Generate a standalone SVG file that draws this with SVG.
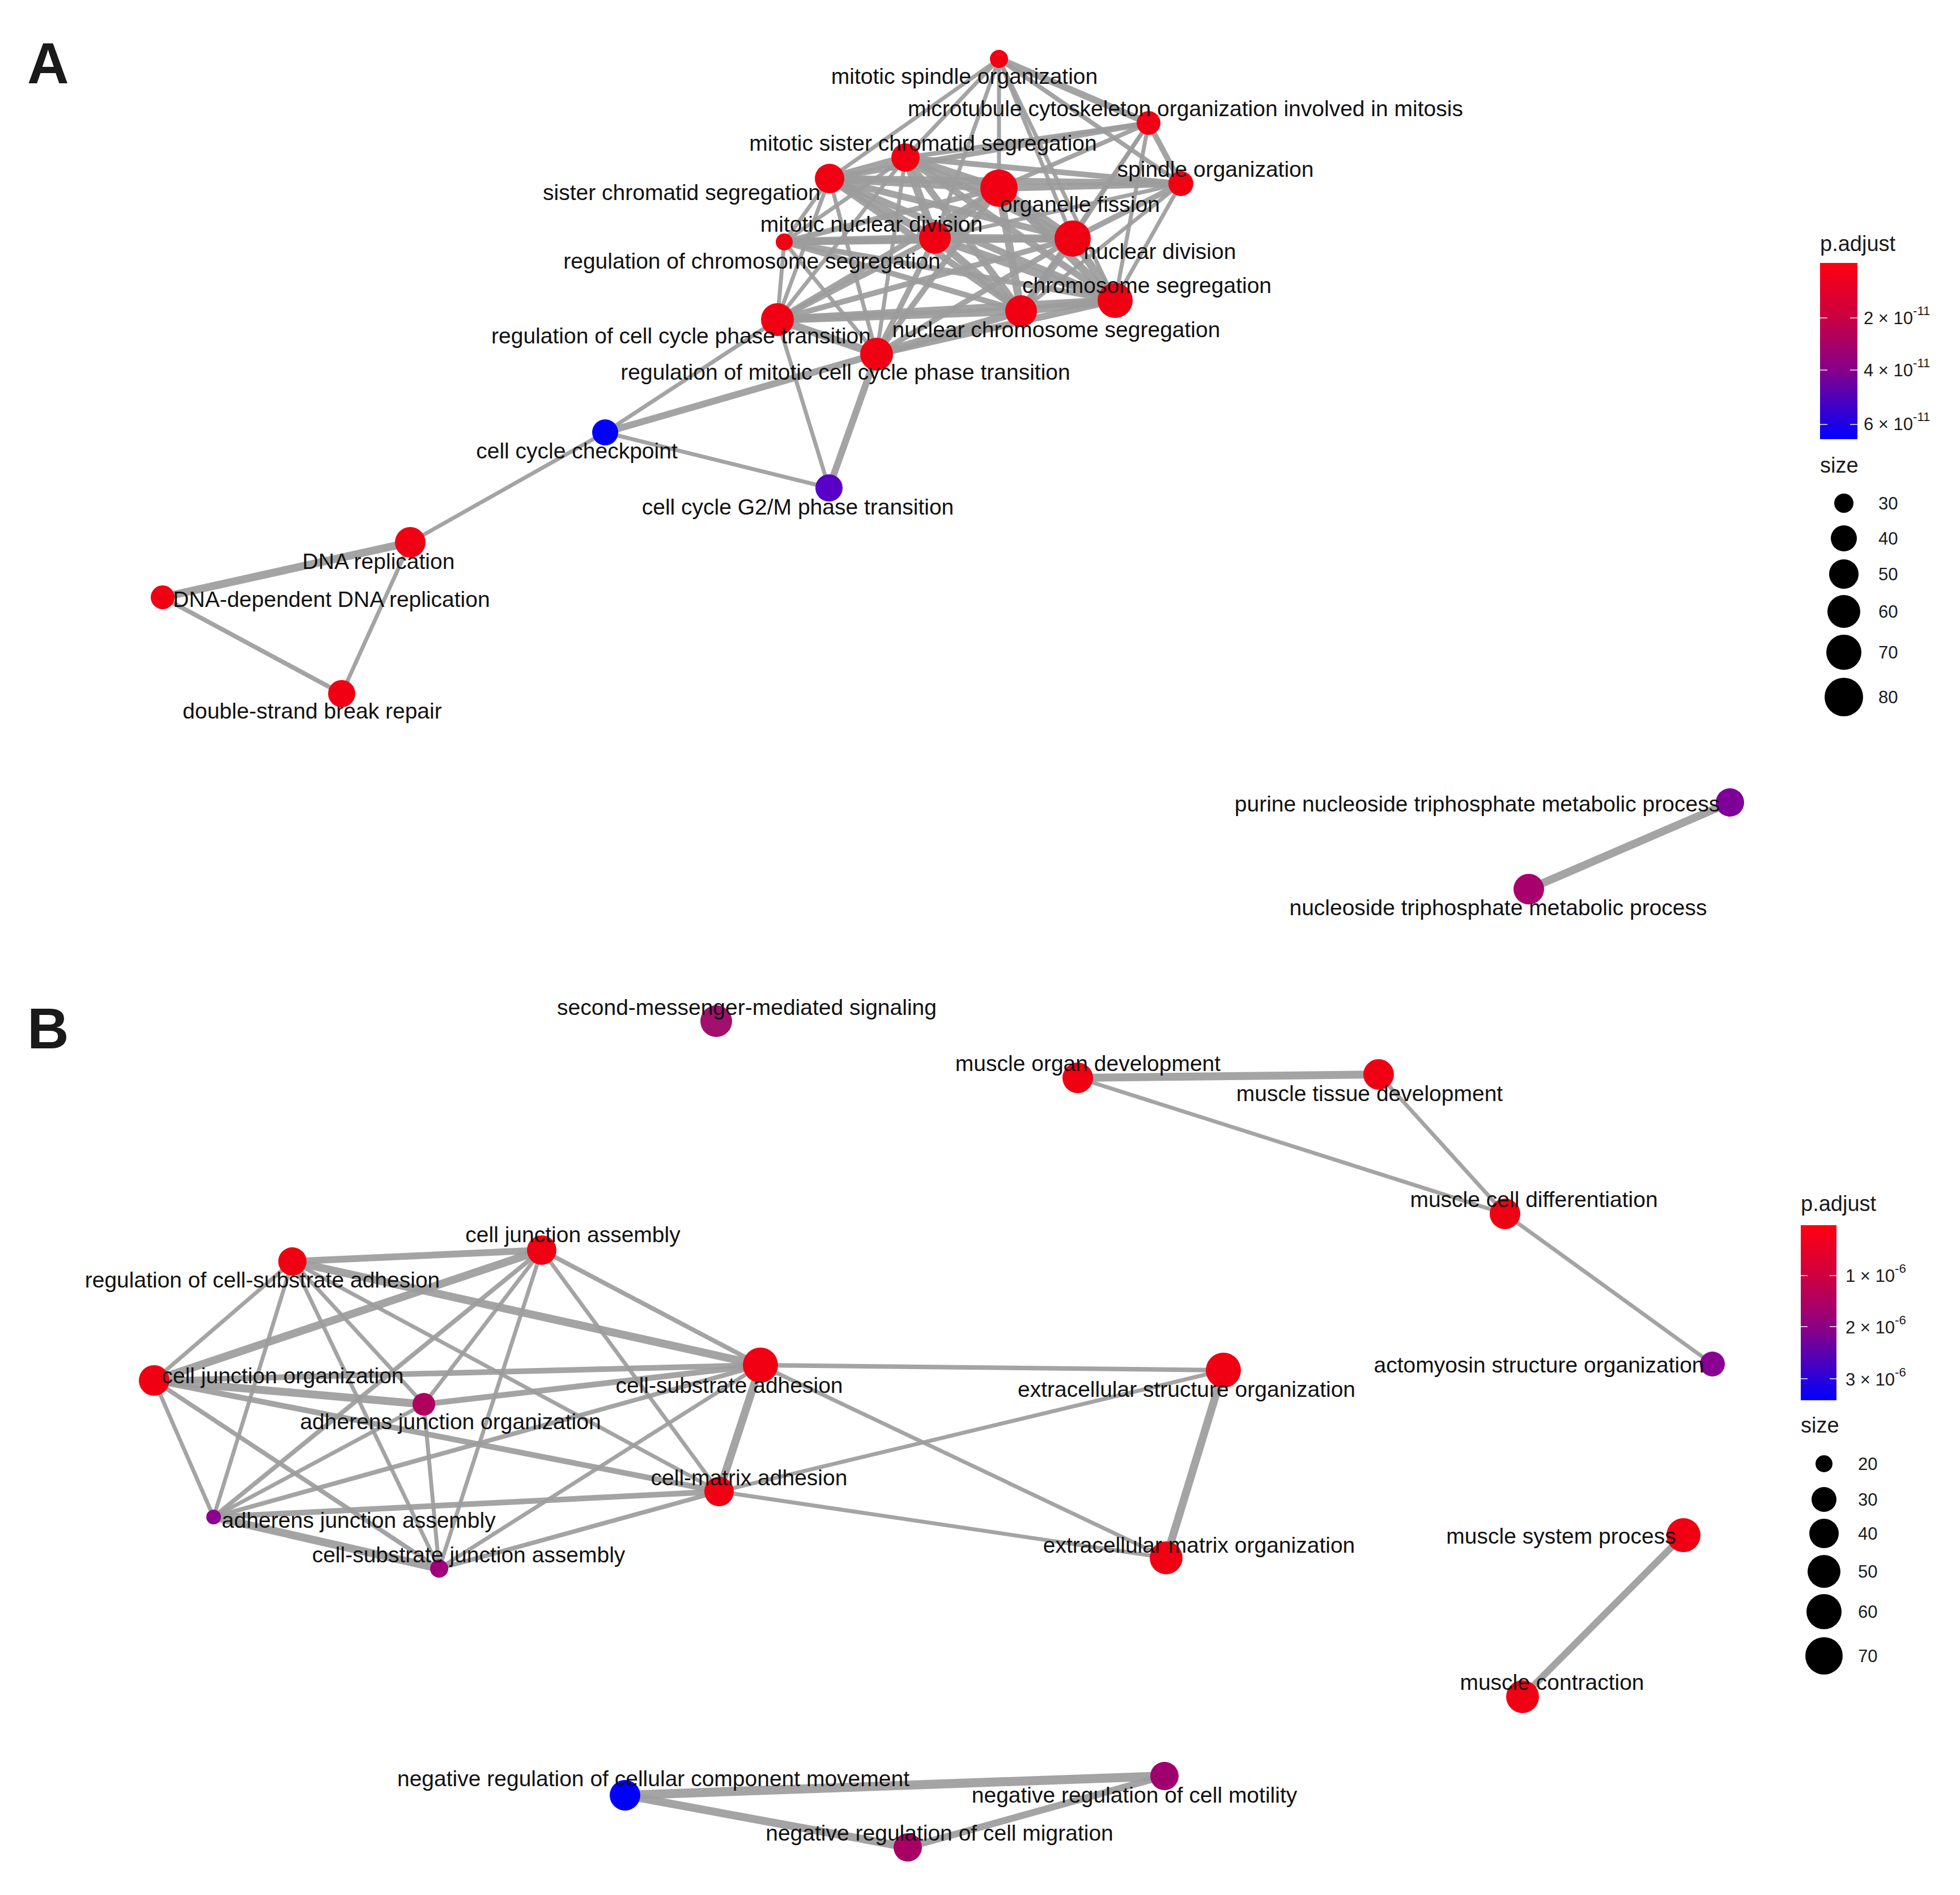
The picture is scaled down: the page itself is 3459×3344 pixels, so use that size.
<svg xmlns="http://www.w3.org/2000/svg" width="3459" height="3344" viewBox="0 0 3459 3344">
<defs>
<style>
.lbl{font-family:"Liberation Sans",Arial,Helvetica,sans-serif;font-size:39px;fill:#111111;text-anchor:middle}
.pl{font-family:"Liberation Sans",Arial,Helvetica,sans-serif;font-size:102px;font-weight:bold;fill:#1a1a1a}
.lt{font-family:"Liberation Sans",Arial,Helvetica,sans-serif;font-size:38px;fill:#1a1a1a}
.lk{font-family:"Liberation Sans",Arial,Helvetica,sans-serif;font-size:31px;fill:#1a1a1a}
.ls{font-size:22px}
#edges line{stroke:#9c9c9c;stroke-opacity:0.92;stroke-linecap:round}
.e5{stroke-width:7}.e6{stroke-width:7}.e7{stroke-width:8}.e8{stroke-width:10}.e10{stroke-width:12}.e12{stroke-width:14}.e14{stroke-width:16}
.red{fill:#f00012}
.tick{stroke:#ffffff;stroke-opacity:0.7;stroke-width:2}
</style>
<linearGradient id="gradA" x1="0" y1="0" x2="0" y2="1">
<stop offset="0" stop-color="#ff0010"/>
<stop offset="0.3" stop-color="#cc0040"/>
<stop offset="0.6" stop-color="#880088"/>
<stop offset="1" stop-color="#0000ff"/>
</linearGradient>
</defs>
<rect width="3459" height="3344" fill="#ffffff"/>

<text class="pl" x="48" y="147">A</text>
<text class="pl" x="48" y="1850">B</text>

<g id="edges">
<line class="e12" x1="1464" y1="315" x2="1598" y2="278"/>
<line class="e12" x1="1464" y1="315" x2="1763" y2="332"/>
<line class="e12" x1="1464" y1="315" x2="1650" y2="420"/>
<line class="e10" x1="1464" y1="315" x2="1893" y2="421"/>
<line class="e10" x1="1464" y1="315" x2="1968" y2="530"/>
<line class="e10" x1="1464" y1="315" x2="1802" y2="549"/>
<line class="e12" x1="1598" y1="278" x2="1763" y2="332"/>
<line class="e12" x1="1598" y1="278" x2="1650" y2="420"/>
<line class="e10" x1="1598" y1="278" x2="1893" y2="421"/>
<line class="e10" x1="1598" y1="278" x2="1968" y2="530"/>
<line class="e10" x1="1598" y1="278" x2="1802" y2="549"/>
<line class="e12" x1="1763" y1="332" x2="1650" y2="420"/>
<line class="e12" x1="1763" y1="332" x2="1893" y2="421"/>
<line class="e12" x1="1763" y1="332" x2="1968" y2="530"/>
<line class="e12" x1="1763" y1="332" x2="1802" y2="549"/>
<line class="e12" x1="1650" y1="420" x2="1893" y2="421"/>
<line class="e12" x1="1650" y1="420" x2="1968" y2="530"/>
<line class="e12" x1="1650" y1="420" x2="1802" y2="549"/>
<line class="e12" x1="1893" y1="421" x2="1968" y2="530"/>
<line class="e12" x1="1893" y1="421" x2="1802" y2="549"/>
<line class="e12" x1="1968" y1="530" x2="1802" y2="549"/>
<line class="e10" x1="1763" y1="104" x2="2027" y2="217"/>
<line class="e7" x1="1763" y1="104" x2="2084" y2="324"/>
<line class="e6" x1="1763" y1="104" x2="1464" y2="315"/>
<line class="e6" x1="1763" y1="104" x2="1598" y2="278"/>
<line class="e6" x1="1763" y1="104" x2="1763" y2="332"/>
<line class="e6" x1="1763" y1="104" x2="1893" y2="421"/>
<line class="e5" x1="1763" y1="104" x2="1650" y2="420"/>
<line class="e5" x1="1763" y1="104" x2="1968" y2="530"/>
<line class="e8" x1="2027" y1="217" x2="2084" y2="324"/>
<line class="e8" x1="2027" y1="217" x2="1464" y2="315"/>
<line class="e7" x1="2027" y1="217" x2="1598" y2="278"/>
<line class="e7" x1="2027" y1="217" x2="1763" y2="332"/>
<line class="e6" x1="2027" y1="217" x2="1893" y2="421"/>
<line class="e6" x1="2027" y1="217" x2="1968" y2="530"/>
<line class="e5" x1="2027" y1="217" x2="1802" y2="549"/>
<line class="e10" x1="2084" y1="324" x2="1464" y2="315"/>
<line class="e8" x1="2084" y1="324" x2="1598" y2="278"/>
<line class="e10" x1="2084" y1="324" x2="1763" y2="332"/>
<line class="e8" x1="2084" y1="324" x2="1893" y2="421"/>
<line class="e6" x1="2084" y1="324" x2="1968" y2="530"/>
<line class="e6" x1="2084" y1="324" x2="1802" y2="549"/>
<line class="e6" x1="2084" y1="324" x2="1650" y2="420"/>
<line class="e6" x1="1384" y1="427" x2="1464" y2="315"/>
<line class="e6" x1="1384" y1="427" x2="1598" y2="278"/>
<line class="e12" x1="1384" y1="427" x2="1650" y2="420"/>
<line class="e10" x1="1384" y1="427" x2="1893" y2="421"/>
<line class="e8" x1="1384" y1="427" x2="1763" y2="332"/>
<line class="e8" x1="1384" y1="427" x2="1968" y2="530"/>
<line class="e8" x1="1384" y1="427" x2="1802" y2="549"/>
<line class="e6" x1="1384" y1="427" x2="1372" y2="564"/>
<line class="e5" x1="1384" y1="427" x2="1547" y2="625"/>
<line class="e6" x1="1372" y1="564" x2="1464" y2="315"/>
<line class="e6" x1="1372" y1="564" x2="1598" y2="278"/>
<line class="e8" x1="1372" y1="564" x2="1763" y2="332"/>
<line class="e8" x1="1372" y1="564" x2="1650" y2="420"/>
<line class="e8" x1="1372" y1="564" x2="1893" y2="421"/>
<line class="e12" x1="1372" y1="564" x2="1968" y2="530"/>
<line class="e12" x1="1372" y1="564" x2="1802" y2="549"/>
<line class="e12" x1="1372" y1="564" x2="1547" y2="625"/>
<line class="e6" x1="1547" y1="625" x2="1464" y2="315"/>
<line class="e6" x1="1547" y1="625" x2="1598" y2="278"/>
<line class="e8" x1="1547" y1="625" x2="1763" y2="332"/>
<line class="e8" x1="1547" y1="625" x2="1650" y2="420"/>
<line class="e8" x1="1547" y1="625" x2="1893" y2="421"/>
<line class="e10" x1="1547" y1="625" x2="1968" y2="530"/>
<line class="e12" x1="1547" y1="625" x2="1802" y2="549"/>
<line class="e6" x1="1068" y1="763" x2="1372" y2="564"/>
<line class="e10" x1="1068" y1="763" x2="1547" y2="625"/>
<line class="e6" x1="1068" y1="763" x2="1463" y2="861"/>
<line class="e6" x1="1068" y1="763" x2="724" y2="957"/>
<line class="e6" x1="1463" y1="861" x2="1372" y2="564"/>
<line class="e10" x1="1463" y1="861" x2="1547" y2="625"/>
<line class="e12" x1="724" y1="957" x2="287" y2="1054"/>
<line class="e6" x1="724" y1="957" x2="603" y2="1224"/>
<line class="e7" x1="287" y1="1054" x2="603" y2="1224"/>
<line class="e12" x1="3053" y1="1416" x2="2698" y2="1569"/>
<line class="e10" x1="516" y1="2226" x2="956" y2="2206"/>
<line class="e6" x1="516" y1="2226" x2="272" y2="2436"/>
<line class="e12" x1="516" y1="2226" x2="1342" y2="2409"/>
<line class="e6" x1="516" y1="2226" x2="377" y2="2677"/>
<line class="e6" x1="516" y1="2226" x2="775" y2="2768"/>
<line class="e6" x1="516" y1="2226" x2="748" y2="2478"/>
<line class="e6" x1="516" y1="2226" x2="1269" y2="2632"/>
<line class="e12" x1="956" y1="2206" x2="272" y2="2436"/>
<line class="e7" x1="956" y1="2206" x2="1342" y2="2409"/>
<line class="e6" x1="956" y1="2206" x2="748" y2="2478"/>
<line class="e7" x1="956" y1="2206" x2="377" y2="2677"/>
<line class="e6" x1="956" y1="2206" x2="775" y2="2768"/>
<line class="e6" x1="956" y1="2206" x2="1269" y2="2632"/>
<line class="e8" x1="272" y1="2436" x2="1342" y2="2409"/>
<line class="e12" x1="272" y1="2436" x2="748" y2="2478"/>
<line class="e6" x1="272" y1="2436" x2="377" y2="2677"/>
<line class="e7" x1="272" y1="2436" x2="775" y2="2768"/>
<line class="e8" x1="272" y1="2436" x2="1269" y2="2632"/>
<line class="e8" x1="748" y1="2478" x2="1342" y2="2409"/>
<line class="e6" x1="748" y1="2478" x2="377" y2="2677"/>
<line class="e6" x1="748" y1="2478" x2="775" y2="2768"/>
<line class="e7" x1="377" y1="2677" x2="1342" y2="2409"/>
<line class="e8" x1="377" y1="2677" x2="1269" y2="2632"/>
<line class="e12" x1="377" y1="2677" x2="775" y2="2768"/>
<line class="e6" x1="775" y1="2768" x2="1342" y2="2409"/>
<line class="e7" x1="775" y1="2768" x2="1269" y2="2632"/>
<line class="e12" x1="1342" y1="2409" x2="1269" y2="2632"/>
<line class="e7" x1="1342" y1="2409" x2="2159" y2="2418"/>
<line class="e6" x1="1342" y1="2409" x2="2058" y2="2749"/>
<line class="e6" x1="1269" y1="2632" x2="2159" y2="2418"/>
<line class="e6" x1="1269" y1="2632" x2="2058" y2="2749"/>
<line class="e12" x1="2159" y1="2418" x2="2058" y2="2749"/>
<line class="e12" x1="1902" y1="1902" x2="2433" y2="1896"/>
<line class="e6" x1="1902" y1="1902" x2="2656" y2="2142"/>
<line class="e6" x1="2433" y1="1896" x2="2656" y2="2142"/>
<line class="e6" x1="2656" y1="2142" x2="3022" y2="2407"/>
<line class="e10" x1="2971" y1="2709" x2="2687" y2="2994"/>
<line class="e14" x1="1103" y1="3168" x2="2055" y2="3134"/>
<line class="e12" x1="1103" y1="3168" x2="1602" y2="3260"/>
<line class="e10" x1="1602" y1="3260" x2="2055" y2="3134"/>
</g>

<g id="n_mitotic_spindle_organization"><circle class="red" cx="1763" cy="104" r="16"/><text class="lbl" x="1702" y="148">mitotic spindle organization</text></g>
<g id="n_microtubule_cytoskeleton"><circle class="red" cx="2027" cy="217" r="21"/><text class="lbl" x="2092" y="205">microtubule cytoskeleton organization involved in mitosis</text></g>
<g id="n_mitotic_sister_chromatid_segregation"><circle class="red" cx="1598" cy="278" r="25"/><text class="lbl" x="1629" y="266">mitotic sister chromatid segregation</text></g>
<g id="n_sister_chromatid_segregation"><circle class="red" cx="1464" cy="315" r="26"/><text class="lbl" x="1203" y="353">sister chromatid segregation</text></g>
<g id="n_spindle_organization"><circle class="red" cx="2084" cy="324" r="22"/><text class="lbl" x="2145" y="312">spindle organization</text></g>
<g id="n_organelle_fission"><circle class="red" cx="1763" cy="332" r="33"/><text class="lbl" x="1906" y="374">organelle fission</text></g>
<g id="n_regulation_of_chromosome_segregation"><circle class="red" cx="1384" cy="427" r="15"/><text class="lbl" x="1327" y="474">regulation of chromosome segregation</text></g>
<g id="n_mitotic_nuclear_division"><circle class="red" cx="1650" cy="420" r="28"/><text class="lbl" x="1538" y="409">mitotic nuclear division</text></g>
<g id="n_nuclear_division"><circle class="red" cx="1893" cy="421" r="32"/><text class="lbl" x="2047" y="457">nuclear division</text></g>
<g id="n_chromosome_segregation"><circle class="red" cx="1968" cy="530" r="31"/><text class="lbl" x="2024" y="517">chromosome segregation</text></g>
<g id="n_nuclear_chromosome_segregation"><circle class="red" cx="1802" cy="549" r="28"/><text class="lbl" x="1864" y="595">nuclear chromosome segregation</text></g>
<g id="n_regulation_of_cell_cycle_phase_transition"><circle class="red" cx="1372" cy="564" r="29"/><text class="lbl" x="1202" y="606">regulation of cell cycle phase transition</text></g>
<g id="n_regulation_of_mitotic_cell_cycle_phase_transition"><circle class="red" cx="1547" cy="625" r="29"/><text class="lbl" x="1492" y="670">regulation of mitotic cell cycle phase transition</text></g>
<g id="n_cell_cycle_checkpoint"><circle cx="1068" cy="763" r="23" fill="#0000ff"/><text class="lbl" x="1018" y="809">cell cycle checkpoint</text></g>
<g id="n_cell_cycle_G2M_phase_transition"><circle cx="1463" cy="861" r="24" fill="#5800c8"/><text class="lbl" x="1408" y="908">cell cycle G2/M phase transition</text></g>
<g id="n_DNA_replication"><circle class="red" cx="724" cy="957" r="27"/><text class="lbl" x="668" y="1004">DNA replication</text></g>
<g id="n_DNA_dependent_DNA_replication"><circle class="red" cx="287" cy="1054" r="21"/><text class="lbl" x="585" y="1071">DNA-dependent DNA replication</text></g>
<g id="n_double_strand_break_repair"><circle class="red" cx="603" cy="1224" r="24"/><text class="lbl" x="551" y="1268">double-strand break repair</text></g>
<g id="n_purine_nucleoside_triphosphate_metabolic_process"><circle cx="3053" cy="1416" r="25" fill="#7e0098"/><text class="lbl" x="2607" y="1432">purine nucleoside triphosphate metabolic process</text></g>
<g id="n_nucleoside_triphosphate_metabolic_process"><circle cx="2698" cy="1569" r="27" fill="#a8006c"/><text class="lbl" x="2644" y="1615">nucleoside triphosphate metabolic process</text></g>

<g id="n_second_messenger_mediated_signaling"><circle cx="1264" cy="1802" r="28" fill="#a0106c"/><text class="lbl" x="1318" y="1791">second-messenger-mediated signaling</text></g>
<g id="n_muscle_organ_development"><circle class="red" cx="1902" cy="1902" r="27"/><text class="lbl" x="1920" y="1890">muscle organ development</text></g>
<g id="n_muscle_tissue_development"><circle class="red" cx="2433" cy="1896" r="27"/><text class="lbl" x="2417" y="1943">muscle tissue development</text></g>
<g id="n_muscle_cell_differentiation"><circle class="red" cx="2656" cy="2142" r="27"/><text class="lbl" x="2707" y="2130">muscle cell differentiation</text></g>
<g id="n_actomyosin_structure_organization"><circle cx="3022" cy="2407" r="22" fill="#8a0092"/><text class="lbl" x="2716" y="2422">actomyosin structure organization</text></g>
<g id="n_cell_junction_assembly"><circle class="red" cx="956" cy="2206" r="26"/><text class="lbl" x="1011" y="2192">cell junction assembly</text></g>
<g id="n_regulation_of_cell_substrate_adhesion"><circle class="red" cx="516" cy="2226" r="25"/><text class="lbl" x="463" y="2272">regulation of cell-substrate adhesion</text></g>
<g id="n_cell_junction_organization"><circle class="red" cx="272" cy="2436" r="27"/><text class="lbl" x="499" y="2441">cell junction organization</text></g>
<g id="n_cell_substrate_adhesion"><circle class="red" cx="1342" cy="2409" r="31"/><text class="lbl" x="1287" y="2458">cell-substrate adhesion</text></g>
<g id="n_adherens_junction_organization"><circle cx="748" cy="2478" r="20" fill="#b0005e"/><text class="lbl" x="795" y="2522">adherens junction organization</text></g>
<g id="n_extracellular_structure_organization"><circle class="red" cx="2159" cy="2418" r="31"/><text class="lbl" x="2094" y="2465">extracellular structure organization</text></g>
<g id="n_cell_matrix_adhesion"><circle class="red" cx="1269" cy="2632" r="26"/><text class="lbl" x="1322" y="2621">cell-matrix adhesion</text></g>
<g id="n_adherens_junction_assembly"><circle cx="377" cy="2677" r="13" fill="#8c0094"/><text class="lbl" x="633" y="2696">adherens junction assembly</text></g>
<g id="n_cell_substrate_junction_assembly"><circle cx="775" cy="2768" r="16" fill="#a0007a"/><text class="lbl" x="827" y="2757">cell-substrate junction assembly</text></g>
<g id="n_extracellular_matrix_organization"><circle class="red" cx="2058" cy="2749" r="29"/><text class="lbl" x="2116" y="2740">extracellular matrix organization</text></g>
<g id="n_muscle_system_process"><circle class="red" cx="2971" cy="2709" r="30"/><text class="lbl" x="2755" y="2724">muscle system process</text></g>
<g id="n_muscle_contraction"><circle class="red" cx="2687" cy="2994" r="29"/><text class="lbl" x="2739" y="2982">muscle contraction</text></g>
<g id="n_negative_regulation_of_cellular_component_movement"><circle cx="1103" cy="3168" r="27" fill="#0000ff"/><text class="lbl" x="1153" y="3152">negative regulation of cellular component movement</text></g>
<g id="n_negative_regulation_of_cell_motility"><circle cx="2055" cy="3134" r="25" fill="#a0006e"/><text class="lbl" x="2002" y="3181">negative regulation of cell motility</text></g>
<g id="n_negative_regulation_of_cell_migration"><circle cx="1602" cy="3260" r="25" fill="#a80064"/><text class="lbl" x="1658" y="3248">negative regulation of cell migration</text></g>

<g id="legendA">
<text class="lt" x="3212" y="443">p.adjust</text>
<rect x="3212" y="464" width="66" height="311" fill="url(#gradA)"/>
<line class="tick" x1="3212" y1="561" x2="3225" y2="561"/><line class="tick" x1="3265" y1="561" x2="3278" y2="561"/>
<line class="tick" x1="3212" y1="653" x2="3225" y2="653"/><line class="tick" x1="3265" y1="653" x2="3278" y2="653"/>
<line class="tick" x1="3212" y1="749" x2="3225" y2="749"/><line class="tick" x1="3265" y1="749" x2="3278" y2="749"/>
<text class="lk" x="3289" y="572">2 × 10<tspan class="ls" dy="-16">-11</tspan></text>
<text class="lk" x="3289" y="664">4 × 10<tspan class="ls" dy="-16">-11</tspan></text>
<text class="lk" x="3289" y="759">6 × 10<tspan class="ls" dy="-16">-11</tspan></text>
<text class="lt" x="3212" y="834">size</text>
<circle cx="3254" cy="888" r="17"/><text class="lk" x="3315" y="899">30</text>
<circle cx="3254" cy="950" r="23"/><text class="lk" x="3315" y="961">40</text>
<circle cx="3254" cy="1013" r="26"/><text class="lk" x="3315" y="1024">50</text>
<circle cx="3254" cy="1079" r="29"/><text class="lk" x="3315" y="1090">60</text>
<circle cx="3254" cy="1151" r="31"/><text class="lk" x="3315" y="1162">70</text>
<circle cx="3254" cy="1230" r="34"/><text class="lk" x="3315" y="1241">80</text>
</g>

<g id="legendB">
<text class="lt" x="3178" y="2137">p.adjust</text>
<rect x="3178" y="2162" width="63" height="309" fill="url(#gradA)"/>
<line class="tick" x1="3178" y1="2251" x2="3190" y2="2251"/><line class="tick" x1="3229" y1="2251" x2="3241" y2="2251"/>
<line class="tick" x1="3178" y1="2341" x2="3190" y2="2341"/><line class="tick" x1="3229" y1="2341" x2="3241" y2="2341"/>
<line class="tick" x1="3178" y1="2433" x2="3190" y2="2433"/><line class="tick" x1="3229" y1="2433" x2="3241" y2="2433"/>
<text class="lk" x="3257" y="2262">1 × 10<tspan class="ls" dy="-16">-6</tspan></text>
<text class="lk" x="3257" y="2353">2 × 10<tspan class="ls" dy="-16">-6</tspan></text>
<text class="lk" x="3257" y="2445">3 × 10<tspan class="ls" dy="-16">-6</tspan></text>
<text class="lt" x="3178" y="2528">size</text>
<circle cx="3219" cy="2583" r="15"/><text class="lk" x="3279" y="2594">20</text>
<circle cx="3219" cy="2646" r="22"/><text class="lk" x="3279" y="2657">30</text>
<circle cx="3219" cy="2706" r="26"/><text class="lk" x="3279" y="2717">40</text>
<circle cx="3219" cy="2773" r="29"/><text class="lk" x="3279" y="2784">50</text>
<circle cx="3219" cy="2844" r="31"/><text class="lk" x="3279" y="2855">60</text>
<circle cx="3219" cy="2922" r="33"/><text class="lk" x="3279" y="2933">70</text>
</g>
</svg>
